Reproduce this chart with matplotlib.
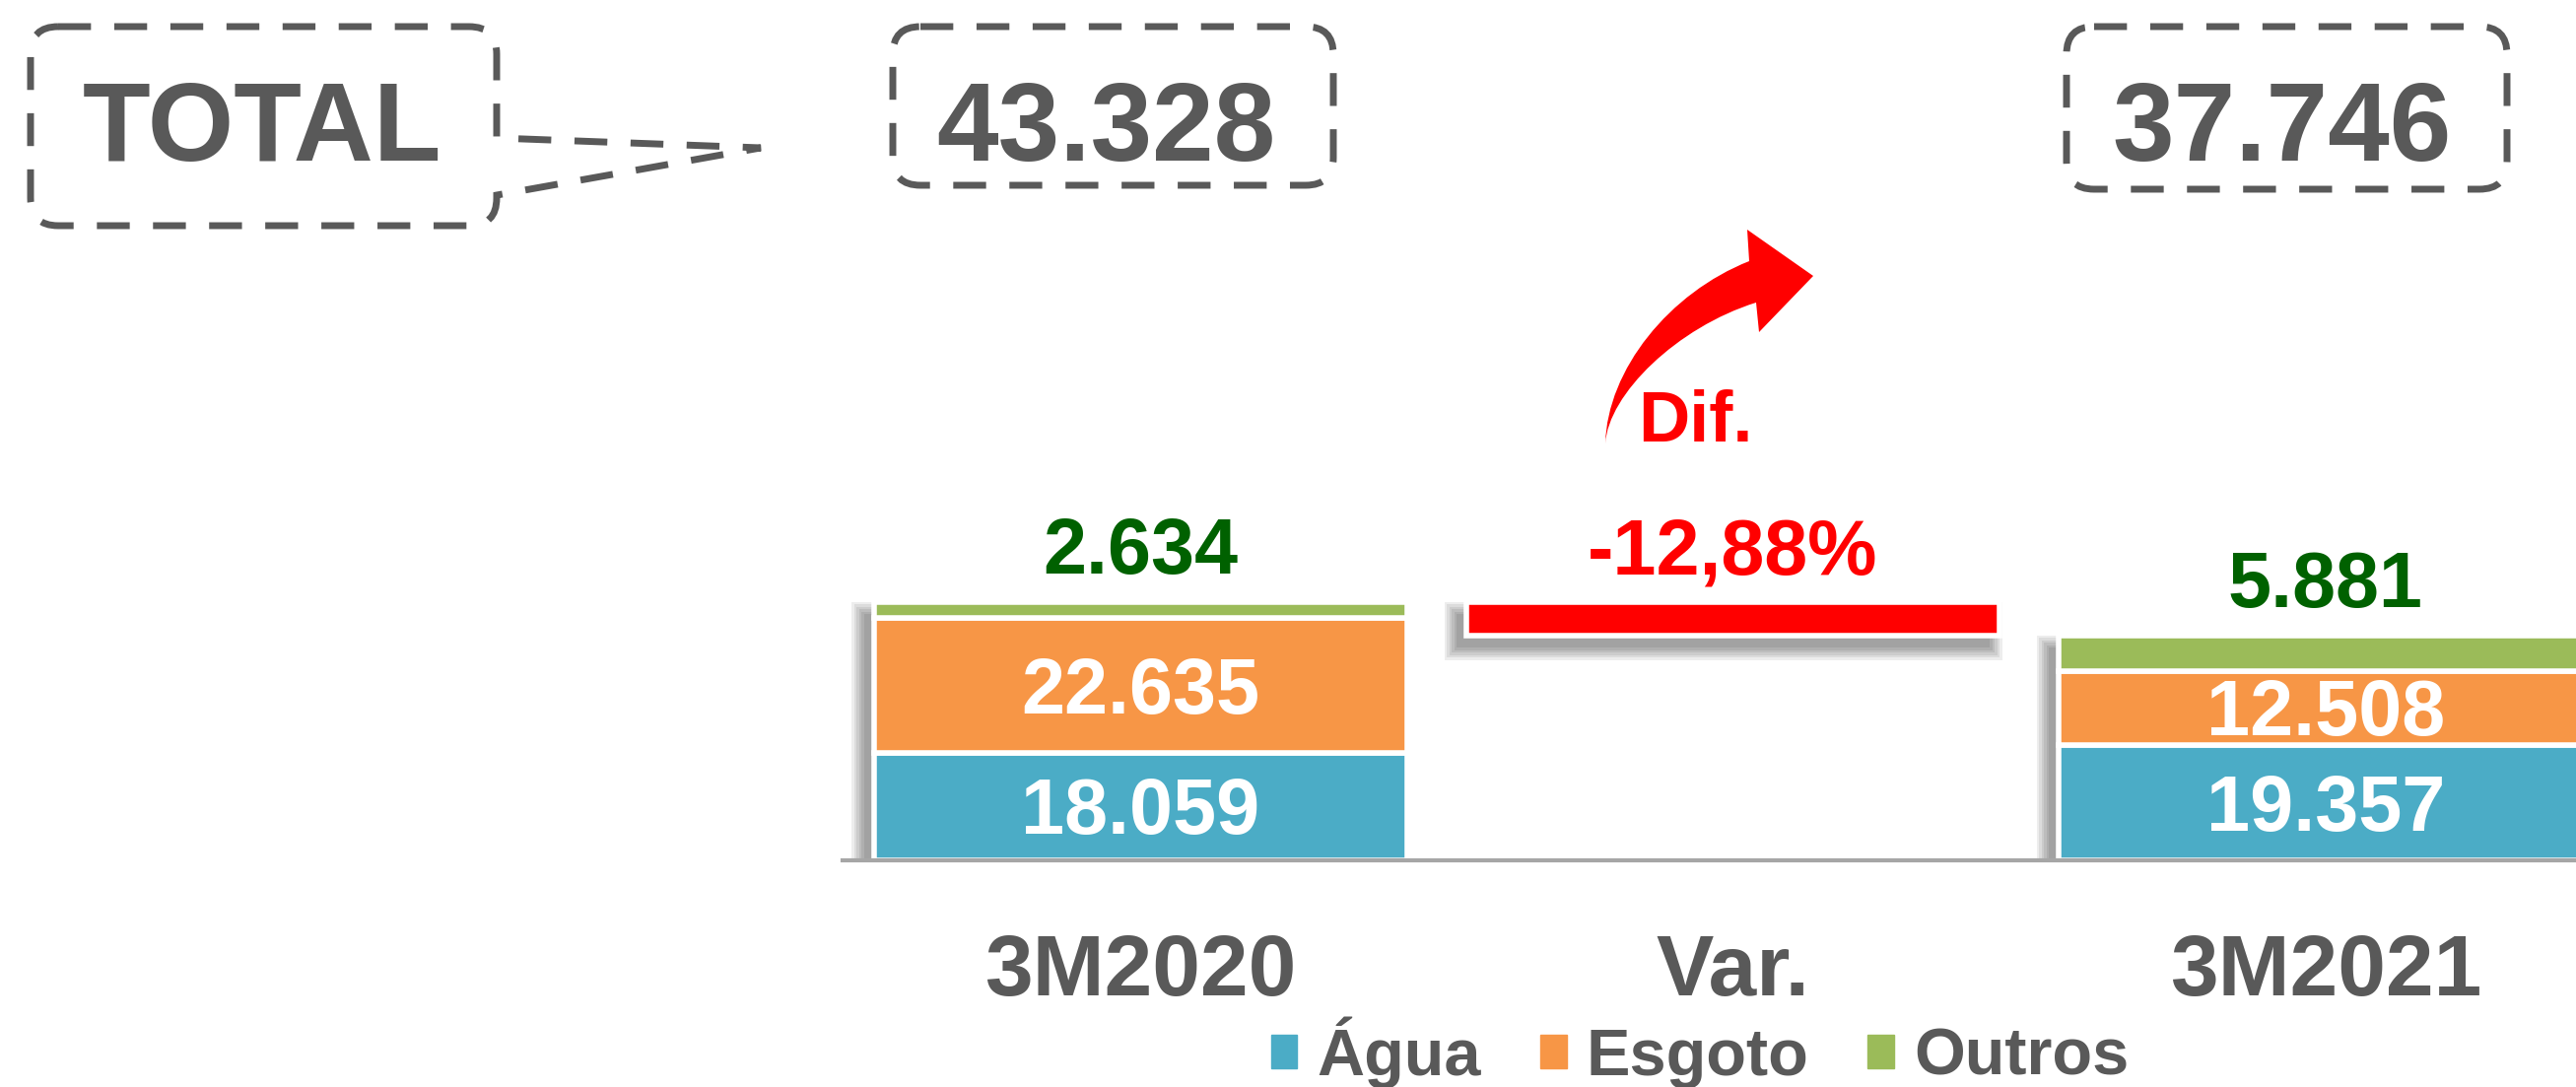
import matplotlib
matplotlib.use('Agg')
import matplotlib.pyplot as plt
from matplotlib.patches import Rectangle, PathPatch
from matplotlib.path import Path

plt.rcParams['font.family'] = ['Liberation Sans', 'DejaVu Sans']
plt.rcParams['font.weight'] = 'bold'

# data
periods = ['3M2020', 'Var.', '3M2021']
agua = [18059, 19357]
esgoto = [22635, 12508]
outros = [2634, 5881]
series_names = ['Água', 'Esgoto', 'Outros']
colors = ['#4BACC6', '#F79646', '#9BBB59']
gray = '#595959'
red = '#FF0000'
green = '#006100'


def fmt(v):
    return f'{v:,}'.replace(',', '.')


totals = [agua[i] + esgoto[i] + outros[i] for i in range(2)]
var_pct = (totals[1] / totals[0] - 1) * 100

W, H = 2614, 1103
fig = plt.figure(figsize=(W / 100, H / 100), dpi=100)

# main chart axes (pixel layout)
ax_left, ax_bottom = 855 / W, 230 / H
ax = fig.add_axes([ax_left, ax_bottom, 1 - ax_left, 362.4 / H])
ax.set_xlim(-0.503, 2.423)
ax.set_ylim(0, 60000)
for s in ['top', 'right', 'left']:
    ax.spines[s].set_visible(False)
ax.spines['bottom'].set_color('#A6A6A6')
ax.spines['bottom'].set_linewidth(3)
ax.spines['bottom'].set_zorder(4)
ax.set_yticks([])
ax.set_xticks([])

px_x = 2.926 / (W * (1 - ax_left))
px_y = 60000 / 362.4
width = 0.9
xpos = [0, 2]


def shadow(x, bottom, height):
    # soft drop shadow, offset down-left
    for k in range(6):
        grow = k * 2.5
        ax.add_patch(Rectangle((x - width / 2 - (10 + grow) * px_x, bottom - (12 + grow) * px_y),
                               width + 2 * grow * px_x, height + 2 * grow * px_y,
                               facecolor='black', alpha=0.07, edgecolor='none', zorder=1))


for i, x in enumerate(xpos):
    shadow(x, 0, totals[i])
shadow(1, totals[1], totals[0] - totals[1])

edge = dict(edgecolor='white', linewidth=4, zorder=2)
ax.bar(xpos, agua, width, color=colors[0], **edge)
ax.bar(xpos, esgoto, width, bottom=agua, color=colors[1], **edge)
ax.bar(xpos, outros, width, bottom=[a + e for a, e in zip(agua, esgoto)], color=colors[2], **edge)
ax.bar([1], [totals[0] - totals[1]], width, bottom=[totals[1]], color=red, **edge)

label_kw = dict(ha='center', va='baseline', fontweight='bold', textcoords='offset pixels')
for i, x in enumerate(xpos):
    ax.annotate(fmt(agua[i]), (x, agua[i] / 2), xytext=(0, -28), color='white', fontsize=57, **label_kw)
    ax.annotate(fmt(esgoto[i]), (x, agua[i] + esgoto[i] / 2), xytext=(0, -28), color='white', fontsize=57, **label_kw)
    ax.annotate(fmt(outros[i]), (x, totals[i]), xytext=(0, 29), color=green, fontsize=57, **label_kw)
ax.annotate(f'{var_pct:.2f}%'.replace('.', ','), (1, totals[0]), xytext=(0, 29),
            color=red, fontsize=57, **label_kw)

for i, p in enumerate(periods):
    ax.annotate(p, (i, 0), xycoords=('data', 'axes fraction'), xytext=(0, -137),
                color=gray, fontsize=63, **label_kw)

handles = [Rectangle((0, 0), 1, 1, color=c) for c in colors]
fig.legend(handles, series_names, loc='center', bbox_to_anchor=(1725 / W, 1 - 1068 / H),
           ncol=3, frameon=False, prop={'size': 48, 'weight': 'bold'},
           labelcolor=gray, handlelength=0.4, handleheight=0.4,
           handletextpad=0.3, columnspacing=0.9, borderpad=0)

# overlay in pixel coordinates for the callout boxes and the arrow
ov = fig.add_axes([0, 0, 1, 1], zorder=3)
ov.set_xlim(0, W)
ov.set_ylim(H, 0)
ov.axis('off')
ov.patch.set_alpha(0)


def box(x0, y0, x1, y1, tail=None, r=28):
    verts = [(x0 + r, y0), (x1 - r, y0), (x1, y0), (x1, y0 + r)]
    codes = [Path.MOVETO, Path.LINETO, Path.CURVE3, Path.CURVE3]
    if tail:
        verts += [(x1, tail[0]), tail[1], (x1, tail[2])]
        codes += [Path.LINETO] * 3
    verts += [(x1, y1 - r), (x1, y1), (x1 - r, y1), (x0 + r, y1), (x0, y1), (x0, y1 - r),
              (x0, y0 + r), (x0, y0), (x0 + r, y0)]
    codes += [Path.LINETO, Path.CURVE3, Path.CURVE3, Path.LINETO, Path.CURVE3, Path.CURVE3,
              Path.LINETO, Path.CURVE3, Path.CURVE3]
    ov.add_patch(PathPatch(Path(verts, codes), facecolor='none', edgecolor=gray,
                           linewidth=5, linestyle=(0, (4.8, 3.4)), capstyle='butt'))


box(31, 27, 504, 229, tail=(140, (772, 150), 198))
box(906, 27, 1353, 188)
box(2097, 27, 2544, 192)

big = dict(ha='center', va='baseline', fontsize=81, fontweight='bold', color=gray)
ov.text(266, 163, 'TOTAL', **big)
ov.text(1122, 163, fmt(totals[0]), **big)
ov.text(2316, 163, fmt(totals[1]), **big)

# curved arrow
arrow_verts = [(1629, 450), (1631, 375), (1694, 297), (1775, 265),
               (1773, 233), (1840, 280), (1785, 337), (1782, 307),
               (1702, 332), (1632, 400), (1629, 450), (1629, 450)]
arrow_codes = [Path.MOVETO, Path.CURVE4, Path.CURVE4, Path.CURVE4,
               Path.LINETO, Path.LINETO, Path.LINETO, Path.LINETO,
               Path.CURVE4, Path.CURVE4, Path.CURVE4, Path.CLOSEPOLY]
ov.add_patch(PathPatch(Path(arrow_verts, arrow_codes), facecolor=red, edgecolor='none'))
ov.text(1720, 448, 'Dif.', ha='center', va='baseline', fontsize=52, fontweight='bold', color=red)

fig.savefig('out.png', dpi=100)
